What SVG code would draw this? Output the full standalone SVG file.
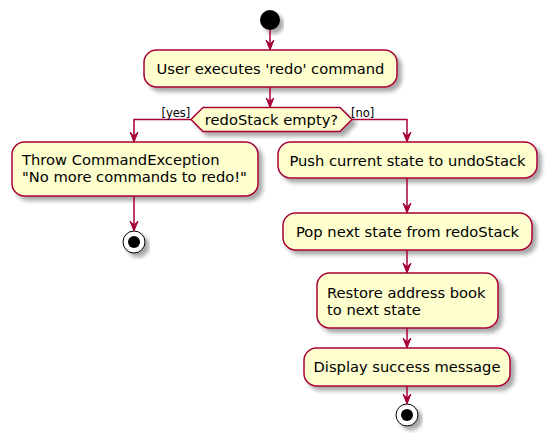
<svg xmlns="http://www.w3.org/2000/svg" width="552" height="443" viewBox="0 0 552 443">
<defs>
<filter id="sh" x="-10%" y="-10%" width="130%" height="140%">
<feGaussianBlur in="SourceAlpha" stdDeviation="2"/>
<feOffset dx="4" dy="4" result="b"/>
<feComponentTransfer><feFuncA type="linear" slope="0.35"/></feComponentTransfer>
<feMerge><feMergeNode/><feMergeNode in="SourceGraphic"/></feMerge>
</filter>
<marker id="ah" markerWidth="12" markerHeight="10" refX="10" refY="5" orient="auto" markerUnits="userSpaceOnUse" viewBox="0 0 12 10">
<polygon points="0,1 10,5 0,9 4,5" fill="#A80036" stroke="#A80036" stroke-width="1"/>
</marker>
</defs>
<style>
.box{fill:#FEFECE;stroke:#A80036;stroke-width:1.5;filter:url(#sh)}
.t{font-family:"DejaVu Sans",sans-serif;font-size:14.7px;fill:#000}
.s{font-family:"DejaVu Sans",sans-serif;font-size:11.5px;fill:#000}
.c{fill:none;stroke:#A80036;stroke-width:1.5}
</style>
<rect width="552" height="443" fill="#FFFFFF"/>
<g id="start"><circle cx="270" cy="20" r="10" fill="#000" filter="url(#sh)"/></g>
<g id="n1"><rect class="box" x="144" y="50" width="253" height="37" rx="12.5"/><text class="t" x="270.5" y="74" text-anchor="middle">User executes 'redo' command</text></g>
<g id="d1"><polygon class="box" points="191,119.5 203,107.5 340,107.5 352,119.5 340,131.5 203,131.5"/><text class="t" x="271.5" y="124.5" text-anchor="middle">redoStack empty?</text></g>
<g id="n2"><rect class="box" x="12" y="142" width="246" height="54" rx="12.5"/><text class="t" x="22" y="165">Throw CommandException</text><text class="t" x="22" y="182">"No more commands to redo!"</text></g>
<g id="end1"><circle cx="134" cy="242" r="11" fill="#FFFFFF" stroke="#000" stroke-width="1" filter="url(#sh)"/><circle cx="134" cy="242" r="6" fill="#000"/></g>
<g id="n3"><rect class="box" x="278" y="142" width="259" height="36" rx="12.5"/><text class="t" x="407.5" y="165.5" text-anchor="middle">Push current state to undoStack</text></g>
<g id="n4"><rect class="box" x="283" y="213" width="249" height="37" rx="12.5"/><text class="t" x="407.5" y="237" text-anchor="middle">Pop next state from redoStack</text></g>
<g id="n5"><rect class="box" x="317" y="273" width="181" height="55" rx="12.5"/><text class="t" x="327" y="297.5">Restore address book</text><text class="t" x="327" y="314.5">to next state</text></g>
<g id="n6"><rect class="box" x="304" y="348" width="206" height="38" rx="12.5"/><text class="t" x="407" y="372" text-anchor="middle">Display success message</text></g>
<g id="end2"><circle cx="407" cy="415" r="11" fill="#FFFFFF" stroke="#000" stroke-width="1" filter="url(#sh)"/><circle cx="407" cy="415" r="6" fill="#000"/></g>
<g id="connectors">
<path class="c" d="M270,30 L270,50" marker-end="url(#ah)"/>
<path class="c" d="M270,87 L270,107.5" marker-end="url(#ah)"/>
<path class="c" d="M191,119.5 L134,119.5 L134,142" marker-end="url(#ah)"/>
<path class="c" d="M352,119.5 L407,119.5 L407,142" marker-end="url(#ah)"/>
<path class="c" d="M134,196 L134,231" marker-end="url(#ah)"/>
<path class="c" d="M407,178 L407,213" marker-end="url(#ah)"/>
<path class="c" d="M407,250 L407,273" marker-end="url(#ah)"/>
<path class="c" d="M407,328 L407,348" marker-end="url(#ah)"/>
<path class="c" d="M407,386 L407,404" marker-end="url(#ah)"/>
<text class="s" x="161.5" y="117">[yes]</text>
<text class="s" x="351" y="117">[no]</text>
</g>
</svg>
